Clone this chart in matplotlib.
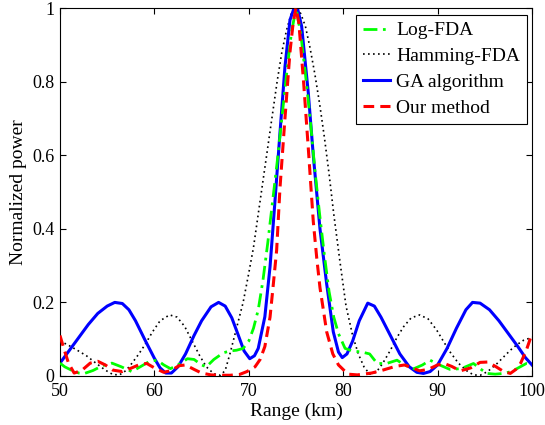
import matplotlib
matplotlib.use("Agg")
import matplotlib.pyplot as plt

# ---- data ----
log_x = [50, 50.5, 51.2, 52, 52.6, 53.5, 54.5, 55.5, 56.5, 57.6, 58.5, 59.5, 60.3, 61, 61.7,
         62.5, 63.5, 64.2, 65, 65.5, 66.3, 67.3, 68, 68.7, 69.4, 70, 70.5, 71, 71.5, 72, 72.5,
         73, 73.5, 74, 74.5, 75, 75.5, 76, 76.5, 77, 77.5, 78, 78.5, 79, 79.5, 80.2, 81, 82,
         82.8, 83.6, 84.6, 85.7, 86.5, 87.5, 88.4, 89.2, 90.2, 91.3, 92.5, 93.8, 94.5, 95.2,
         96.1, 97, 97.8, 98.4, 99.4, 100]
log_y = [0.035, 0.025, 0.016, 0.008, 0.007, 0.015, 0.028, 0.035, 0.025, 0.012, 0.025, 0.04,
         0.043, 0.03, 0.02, 0.03, 0.047, 0.045, 0.03, 0.025, 0.045, 0.063, 0.068, 0.07, 0.075,
         0.095, 0.13, 0.18, 0.26, 0.36, 0.47, 0.58, 0.70, 0.82, 0.93, 1.0, 0.93, 0.82, 0.70,
         0.56, 0.44, 0.33, 0.23, 0.16, 0.115, 0.075, 0.068, 0.065, 0.06, 0.034, 0.034, 0.043,
         0.03, 0.02, 0.03, 0.043, 0.03, 0.018, 0.02, 0.034, 0.02, 0.007, 0.005, 0.007, 0.012,
         0.02, 0.034, 0.03]

ham_x = [50, 50.8, 51.7, 52.8, 53.8, 54.8, 55.6, 56.3, 57, 57.6, 58.3, 59, 59.8, 60.6, 61.6,
         62.4, 63.2, 64, 64.8, 65.5, 66.3, 67, 67.5, 68, 68.7, 69.4, 70, 70.5, 71, 71.5, 72,
         72.5, 73, 73.5, 74, 74.5, 75, 75.5, 76, 76.5, 77, 77.5, 78, 78.5, 79, 79.66, 80.3,
         81, 81.6, 82.2, 82.8, 83.5, 84.2, 85, 85.7, 86.4, 87.2, 88.1, 89, 89.9, 90.6, 91.3,
         92.2, 93.1, 93.8, 94.5, 95.3, 96.3, 97, 97.7, 98.4, 99.1, 100]
ham_y = [0.095, 0.085, 0.072, 0.055, 0.035, 0.016, 0.004, 0.003, 0.015, 0.034, 0.058, 0.085,
         0.12, 0.15, 0.166, 0.16, 0.135, 0.095, 0.055, 0.025, 0.006, 0.002, 0.015, 0.06, 0.13,
         0.20, 0.28, 0.35, 0.44, 0.53, 0.62, 0.71, 0.80, 0.88, 0.94, 0.985, 1.0, 0.985, 0.95,
         0.89, 0.82, 0.74, 0.65, 0.55, 0.44, 0.31, 0.19, 0.11, 0.06, 0.025, 0.005, 0.01, 0.035,
         0.07, 0.105, 0.134, 0.158, 0.166, 0.155, 0.125, 0.095, 0.066, 0.035, 0.014, 0.003,
         0.002, 0.012, 0.034, 0.052, 0.07, 0.085, 0.097, 0.105]

ga_x = [50, 51, 52, 53, 54, 55, 55.8, 56.6, 57.3, 58, 59, 60, 60.6, 61.2, 61.8, 62.5, 63.3,
        64.2, 65, 66, 66.8, 67.5, 68.2, 68.9, 69.5, 70.1, 70.6, 71.0, 71.7, 72.25, 72.78, 73.3,
        73.83, 74.36, 74.8, 75.2, 75.6, 76.3, 76.83, 77.54, 78.25, 78.95, 79.5, 79.9, 80.4, 81,
        81.7, 82.6, 83.3, 84, 85, 86, 87, 87.8, 88.5, 89.2, 90, 91, 92, 93, 93.7, 94.5, 95.5,
        96.5, 97.5, 98.5, 99.3, 100]
ga_y = [0.035, 0.07, 0.105, 0.14, 0.17, 0.19, 0.2, 0.197, 0.18, 0.15, 0.098, 0.048, 0.022,
        0.008, 0.008, 0.025, 0.06, 0.11, 0.15, 0.188, 0.2, 0.19, 0.158, 0.11, 0.068, 0.047,
        0.055, 0.075, 0.161, 0.297, 0.478, 0.66, 0.84, 0.967, 1.0, 0.995, 0.95, 0.77, 0.6,
        0.40, 0.25, 0.12, 0.065, 0.05, 0.06, 0.095, 0.15, 0.198, 0.19, 0.16, 0.11, 0.06, 0.025,
        0.01, 0.007, 0.012, 0.03, 0.075, 0.13, 0.18, 0.2, 0.198, 0.18, 0.15, 0.115, 0.08,
        0.05, 0.03]

our_x = [50, 50.4, 50.9, 51.5, 52.3, 53.2, 54, 54.8, 55.6, 56.6, 57.6, 58.5, 59.2, 60, 61,
         61.8, 62.6, 63.3, 64.2, 65, 66, 67, 68, 69, 69.8, 70.66, 71.2, 71.7, 72.25, 72.6,
         72.95, 73.3, 73.83, 74.36, 74.7, 75, 75.3, 75.8, 76.3, 76.83, 77.2, 77.54, 78.25,
         78.9, 79.5, 80.5, 81.5, 83, 84.2, 85.5, 86.5, 87.3, 88.1, 89, 90, 90.7, 91.5, 92.4,
         93.5, 94.5, 95.3, 96.2, 97, 97.7, 98.3, 98.8, 99.4, 100]
our_y = [0.11, 0.075, 0.035, 0.008, 0.015, 0.035, 0.04, 0.03, 0.016, 0.012, 0.022, 0.032,
         0.034, 0.022, 0.01, 0.015, 0.028, 0.03, 0.018, 0.008, 0.003, 0.002, 0.002, 0.004,
         0.012, 0.025, 0.045, 0.08, 0.16, 0.25, 0.342, 0.51, 0.70, 0.88, 0.96, 1.0, 0.96, 0.80,
         0.62, 0.42, 0.32, 0.24, 0.12, 0.06, 0.03, 0.005, 0.003, 0.008, 0.016, 0.026, 0.03,
         0.022, 0.014, 0.018, 0.03, 0.034, 0.026, 0.014, 0.022, 0.037, 0.038, 0.025, 0.012,
         0.007, 0.018, 0.035, 0.07, 0.115]

labels = ["Log-FDA", "Hamming-FDA", "GA algorithm", "Our method"]
x_ticks = [50, 60, 70, 80, 90, 100]
y_ticks = [0, 0.2, 0.4, 0.6, 0.8, 1]
y_ticklabels = ["0", "0.2", "0.4", "0.6", "0.8", "1"]

plt.rcParams["font.family"] = ["Liberation Serif", "DejaVu Serif"]
plt.rcParams["font.size"] = 14

fig = plt.figure(figsize=(5.45, 4.25), dpi=100)
ax = fig.add_axes([60 / 545, 1 - 376 / 425, 472 / 545, 368 / 425])

ax.plot(log_x, log_y, color=(0, 1, 0), lw=2.0, ls=(0, (5, 2, 1, 2)), label=labels[0], zorder=3)
ax.plot(ham_x, ham_y, color="black", lw=1.2, ls=(0, (1, 2)), label=labels[1], zorder=2)
ax.plot(ga_x, ga_y, color=(0, 0, 1), lw=2.2, ls="-", label=labels[2], zorder=2.5)
ax.plot(our_x, our_y, color=(1, 0, 0), lw=2.2, ls=(0, (3.5, 2)), label=labels[3], zorder=4)

ax.set_xlim(50, 100)
ax.set_ylim(0, 1)
ax.set_xticks(x_ticks)
ax.set_yticks(y_ticks)
ax.set_yticklabels(y_ticklabels)
ax.tick_params(axis="x", direction="in", length=4, width=0.8, top=True, pad=5, labelsize=13)
ax.tick_params(axis="y", direction="in", length=4, width=0.8, right=True, pad=4, labelsize=13)
for s in ax.spines.values():
    s.set_linewidth(0.8)

ax.set_xlabel("Range (km)", labelpad=2)
ax.set_ylabel("Normalized power", labelpad=4)

leg = ax.legend(loc="upper right", bbox_to_anchor=(0.989, 0.981), fancybox=False,
                framealpha=1, edgecolor="black", handlelength=1.4, handletextpad=0.3,
                borderpad=0.35, labelspacing=0.42, borderaxespad=0.0)
leg.get_frame().set_linewidth(0.8)

fig.savefig("out.png", dpi=100)
